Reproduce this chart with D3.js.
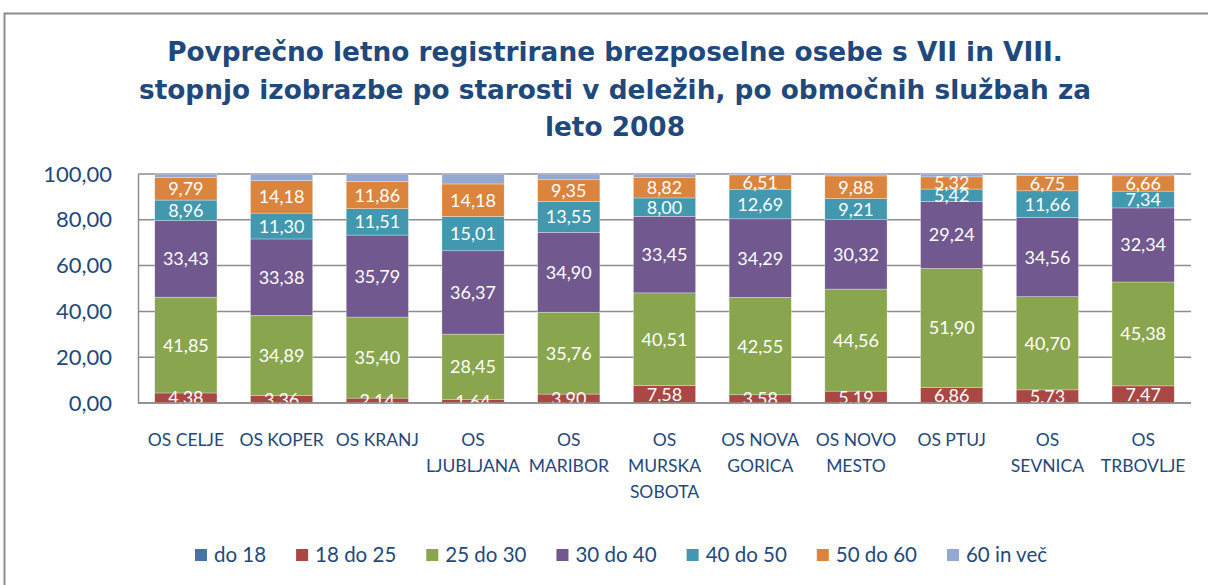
<!DOCTYPE html>
<html>
<head>
<meta charset="utf-8">
<script src="https://cdn.jsdelivr.net/npm/d3@7"></script>
<style>
  body { margin: 0; background: #fff; }
  svg { display: block; }
</style>
</head>
<body>
<div id="chart"></div>
<script>
// categories (line breaks as in the original axis labels)
const categories = [
  "OS CELJE", "OS KOPER", "OS KRANJ", "OS\nLJUBLJANA", "OS\nMARIBOR",
  "OS\nMURSKA\nSOBOTA", "OS NOVA\nGORICA", "OS NOVO\nMESTO", "OS PTUJ",
  "OS\nSEVNICA", "OS\nTRBOVLJE"
];

const seriesNames = ["do 18", "18 do 25", "25 do 30", "30 do 40", "40 do 50", "50 do 60", "60 in več"];

// shares in % per age group
const do18     = [0.00, 0.00, 0.00, 0.00, 0.00, 0.00, 0.00, 0.00, 0.00, 0.00, 0.00];
const od18do25 = [4.38, 3.36, 2.14, 1.64, 3.90, 7.58, 3.58, 5.19, 6.86, 5.73, 7.47];
const od25do30 = [41.85, 34.89, 35.40, 28.45, 35.76, 40.51, 42.55, 44.56, 51.90, 40.70, 45.38];
const od30do40 = [33.43, 33.38, 35.79, 36.37, 34.90, 33.45, 34.29, 30.32, 29.24, 34.56, 32.34];
const od40do50 = [8.96, 11.30, 11.51, 15.01, 13.55, 8.00, 12.69, 9.21, 5.42, 11.66, 7.34];
const od50do60 = [9.79, 14.18, 11.86, 14.18, 9.35, 8.82, 6.51, 9.88, 5.32, 6.75, 6.66];
const nad60    = [1.59, 2.89, 3.30, 4.35, 2.54, 1.64, 0.38, 0.84, 1.26, 0.60, 0.81];

const yTicks = [0, 20, 40, 60, 80, 100];

const seriesValues = [do18, od18do25, od25do30, od30do40, od40do50, od50do60, nad60];
const labelled = [false, true, true, true, true, true, false];
const colors = ["#4572A7", "#AA4643", "#89A54E", "#71588F", "#4198AF", "#DB843D", "#93A9CF"];

const W = 1208, H = 585;
const textBlue = "#1F497D";
const numFmt = d3.formatLocale({ decimal: ",", thousands: ".", grouping: [3], currency: ["", ""] }).format(".2f");

const svg = d3.select("#chart").append("svg").attr("width", W).attr("height", H);

// outer chart frame
svg.append("rect")
  .attr("x", 4.5).attr("y", 13.5).attr("width", W + 20).attr("height", H + 20)
  .attr("fill", "none").attr("stroke", "#8c8c8c").attr("stroke-width", 2);

// title
const titleLines = [
  "Povprečno letno registrirane brezposelne osebe s VII in VIII.",
  "stopnjo izobrazbe po starosti v deležih, po območnih službah za",
  "leto 2008"
];
const title = svg.append("text")
  .attr("x", 615).attr("y", 61)
  .attr("text-anchor", "middle")
  .style("font-family", "'DejaVu Sans', Verdana, sans-serif")
  .style("font-weight", "bold").style("font-size", "26px")
  .attr("fill", textBlue);
title.selectAll("tspan").data(titleLines).join("tspan")
  .attr("x", 615).attr("dy", (d, i) => i === 0 ? 0 : 37.5)
  .text((d) => d);
// fit first line to the width seen in the original (~896px)
const firstW = title.select("tspan").node().getComputedTextLength();
title.style("font-size", `${(26 * 896) / firstW}px`);

// data table for stacking
const table = categories.map((c, i) => {
  const row = { cat: c };
  seriesNames.forEach((s, j) => (row[s] = seriesValues[j][i]));
  return row;
});
const stacked = d3.stack().keys(seriesNames)(table);

const x = d3.scaleBand().domain(categories).range([138, 1191])
  .paddingInner(0.35).paddingOuter(0.175);
const y = d3.scaleLinear().domain([0, 100]).range([403, 174]);

// gridlines
svg.append("g").selectAll("line").data(yTicks).join("line")
  .attr("x1", 138).attr("x2", 1191)
  .attr("y1", (d) => y(d)).attr("y2", (d) => y(d))
  .attr("stroke", "#8c8c8c").attr("stroke-width", 1.5);

// y axis
const yAxis = svg.append("g").attr("transform", "translate(138,0)")
  .call(d3.axisLeft(y).tickValues(yTicks).tickFormat(numFmt).tickSize(0).tickPadding(26));
yAxis.select(".domain").attr("stroke", "#8c8c8c").attr("stroke-width", 1.5);
yAxis.selectAll("text")
  .style("font-family", "Lato, 'Open Sans', sans-serif").style("font-size", "22px")
  .attr("fill", textBlue);

// bars
const layers = svg.append("g").selectAll("g").data(stacked).join("g")
  .attr("fill", (d, i) => colors[i]);
layers.selectAll("rect").data((d) => d).join("rect")
  .attr("x", (d) => x(d.data.cat))
  .attr("width", x.bandwidth())
  .attr("y", (d) => y(d[1]))
  .attr("height", (d) => y(d[0]) - y(d[1]))
  .attr("stroke", "#fff").attr("stroke-width", 0.5).attr("stroke-opacity", 0.6);

// data labels
stacked.forEach((layer, i) => {
  if (!labelled[i]) return;
  svg.append("g").selectAll("text").data(layer).join("text")
    .attr("x", (d) => x(d.data.cat) + x.bandwidth() / 2)
    .attr("y", (d) => (y(d[0]) + y(d[1])) / 2)
    .attr("dy", "0.36em")
    .attr("text-anchor", "middle")
    .style("font-family", "Lato, 'Open Sans', sans-serif").style("font-size", "18px")
    .attr("fill", "#fff")
    .text((d) => numFmt(d[1] - d[0]));
});

// bottom axis line
svg.append("line")
  .attr("x1", 138).attr("x2", 1191).attr("y1", y(0)).attr("y2", y(0))
  .attr("stroke", "#8c8c8c").attr("stroke-width", 1.5);

// category labels
svg.append("g").selectAll("text").data(categories).join("text")
  .attr("text-anchor", "middle")
  .style("font-family", "Lato, 'Open Sans', sans-serif").style("font-size", "17.5px")
  .attr("fill", textBlue)
  .each(function (d) {
    const cx = x(d) + x.bandwidth() / 2;
    d3.select(this).selectAll("tspan").data(d.split("\n")).join("tspan")
      .attr("x", cx)
      .attr("y", (t, k) => 446 + k * 26)
      .text((t) => t);
  });

// legend
const legend = svg.append("g").attr("transform", "translate(0,555)");
const items = legend.selectAll("g").data(seriesNames).join("g");
items.append("rect").attr("width", 12).attr("height", 12).attr("y", -6)
  .attr("fill", (d, i) => colors[i]);
items.append("text").attr("x", 19).attr("dy", "0.36em")
  .style("font-family", "Lato, 'Open Sans', sans-serif").style("font-size", "20.5px")
  .attr("fill", textBlue)
  .text((d) => d);
const widths = [];
items.each(function () {
  widths.push(19 + d3.select(this).select("text").node().getComputedTextLength());
});
const gap = 30;
const total = d3.sum(widths) + gap * (widths.length - 1);
let lx = 621 - total / 2;
items.each(function (d, i) {
  d3.select(this).attr("transform", `translate(${lx},0)`);
  lx += widths[i] + gap;
});
</script>
</body>
</html>
